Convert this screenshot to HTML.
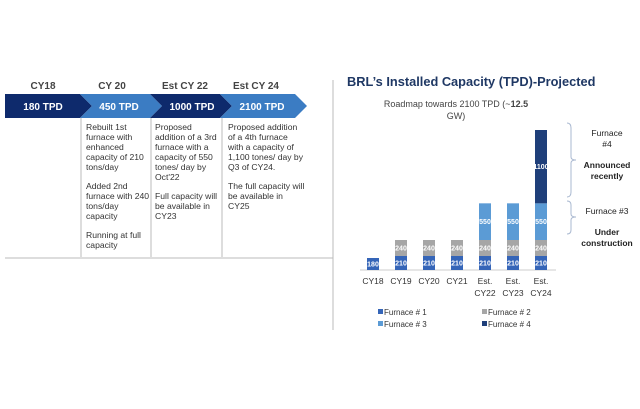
<!DOCTYPE html>
<html><head><meta charset="utf-8"><style>
body{margin:0;width:640px;height:409px;background:#fff;font-family:"Liberation Sans",sans-serif;overflow:hidden}
svg{display:block}
</style></head><body>
<svg width="640" height="409" viewBox="0 0 640 409" font-family="Liberation Sans, sans-serif">
<g>
 <polygon points="5,94 80,94 92,106 80,118 5,118" fill="#0e2a6c"/>
 <polygon points="80,94 150,94 162,106 150,118 80,118 92,106" fill="#3b7cc3"/>
 <polygon points="150,94 220,94 232,106 220,118 150,118 162,106" fill="#0e2a6c"/>
 <polygon points="220,94 295,94 307,106 295,118 220,118 232,106" fill="#3b7cc3"/>
 <g font-size="10" font-weight="bold" fill="#444" text-anchor="middle">
  <text x="43" y="89">CY18</text>
  <text x="112" y="89">CY 20</text>
  <text x="185" y="89">Est CY 22</text>
  <text x="256" y="89">Est CY 24</text>
 </g>
 <g font-size="10" font-weight="bold" fill="#fff" text-anchor="middle">
  <text x="43" y="110">180 TPD</text>
  <text x="119" y="110">450 TPD</text>
  <text x="192" y="110">1000 TPD</text>
  <text x="262" y="110">2100 TPD</text>
 </g>
 <g stroke="#bbb" stroke-width="1">
  <line x1="81" y1="118" x2="81" y2="257"/><line x1="151" y1="118" x2="151" y2="257"/><line x1="222" y1="118" x2="222" y2="257"/>
  <line x1="5" y1="258" x2="333" y2="258"/><line x1="333" y1="80" x2="333" y2="330"/>
 </g>
 <g font-size="8.6" fill="#333">
  <text x="86" y="130">Rebuilt 1st</text><text x="86" y="140">furnace with</text><text x="86" y="150">enhanced</text><text x="86" y="160">capacity of 210</text><text x="86" y="170">tons/day</text>
  <text x="86" y="189">Added 2nd</text><text x="86" y="199">furnace with 240</text><text x="86" y="209">tons/day</text><text x="86" y="219">capacity</text>
  <text x="86" y="238">Running at full</text><text x="86" y="248">capacity</text>
 </g>
 <g font-size="8.6" fill="#333">
  <text x="155" y="130">Proposed</text><text x="155" y="140">addition of a 3rd</text><text x="155" y="150">furnace with a</text><text x="155" y="160">capacity of 550</text><text x="155" y="170">tones/ day by</text><text x="155" y="180">Oct'22</text>
  <text x="155" y="199">Full capacity will</text><text x="155" y="209">be available in</text><text x="155" y="219">CY23</text>
 </g>
 <g font-size="8.6" fill="#333">
  <text x="228" y="130">Proposed addition</text><text x="228" y="140">of a 4th furnace</text><text x="228" y="150">with a capacity of</text><text x="228" y="160">1,100 tones/ day by</text><text x="228" y="170">Q3 of CY24.</text>
  <text x="228" y="189">The full capacity will</text><text x="228" y="199">be available in</text><text x="228" y="209">CY25</text>
 </g>
</g>
<text x="347" y="86" font-size="12.8" font-weight="bold" fill="#1f3864">BRL’s Installed Capacity (TPD)-Projected</text>
<g font-size="9" fill="#444" text-anchor="middle">
 <text x="456" y="107">Roadmap towards 2100 TPD (~<tspan font-weight="bold">12.5</tspan></text>
 <text x="456" y="119">GW)</text>
</g>
<g id="chart"></g>
<g fill="none" stroke="#a9b8d0" stroke-width="1">
 <path d="M567,123 Q571,123 571,128 L571,157 Q571,160 576,160 Q571,160 571,163 L571,192 Q571,197 567,197"/>
 <path d="M567,201 Q571,201 571,205 L571,214 Q571,217 576,217 Q571,217 571,220 L571,230 Q571,234 567,234"/>
</g>
<g font-size="8.5" fill="#222" text-anchor="middle">
 <text x="607" y="136">Furnace</text><text x="607" y="147">#4</text>
 <text x="607" y="168" font-weight="bold">Announced</text><text x="607" y="179" font-weight="bold">recently</text>
 <text x="607" y="214">Furnace #3</text>
 <text x="607" y="235" font-weight="bold">Under</text><text x="607" y="246" font-weight="bold">construction</text>
</g>
</svg>
<script>
const categories=["CY18","CY19","CY20","CY21","Est.|CY22","Est.|CY23","Est.|CY24"];
const furnace1=[180,210,210,210,210,210,210];
const furnace2=[0,240,240,240,240,240,240];
const furnace3=[0,0,0,0,550,550,550];
const furnace4=[0,0,0,0,0,0,1100];
const seriesNames=["Furnace # 1","Furnace # 2","Furnace # 3","Furnace # 4"];
const series=[furnace1,furnace2,furnace3,furnace4];
const colors=["#3565b8","#a6a6a6","#5b9bd5","#1f3f7a"];
const NS="http://www.w3.org/2000/svg";
const g=document.getElementById('chart');
const base=270,pxPer=140/2100,x0=373,step=28,bw=12;
const yS=v=>v*pxPer;
const xS=i=>x0+i*step;
function mk(t,a){const e=document.createElementNS(NS,t);for(const k in a)e.setAttribute(k,a[k]);g.appendChild(e);return e;}
const ax=mk('line',{x1:360,y1:base,x2:556,y2:base,stroke:'#ccc'});


categories.forEach((c,i)=>{
 let acc=0;
 series.forEach((s,k)=>{
  const v=s[i]; if(!v) return;
  const h=yS(v);
  const r=mk('rect',{x:xS(i)-bw/2,y:base-acc-h,width:bw,height:h,fill:colors[k]});
  
  
  const t=mk('text',{x:xS(i),y:base-acc-h/2+2.5,'font-size':7,'font-weight':'bold',fill:'#fff','text-anchor':'middle'});
  t.textContent=v;
  
  
  acc+=h;
 });
 const parts=c.split('|');
 parts.forEach((p,j)=>{
  const t=mk('text',{x:xS(i),y:parts.length>1?284+j*12:284,'font-size':8.5,fill:'#333','text-anchor':'middle'});
  t.textContent=p;
  
  
 });
});
const legPos=[[384,315],[488,315],[384,327],[488,327]];
seriesNames.forEach((n,k)=>{
 const r=mk('rect',{x:legPos[k][0]-6,y:legPos[k][1]-6,width:5,height:5,fill:colors[k]});
 
 
 const t=mk('text',{x:legPos[k][0],y:legPos[k][1],'font-size':8,fill:'#333'});
 t.textContent=n;
 
 
});
</script>
</body></html>
